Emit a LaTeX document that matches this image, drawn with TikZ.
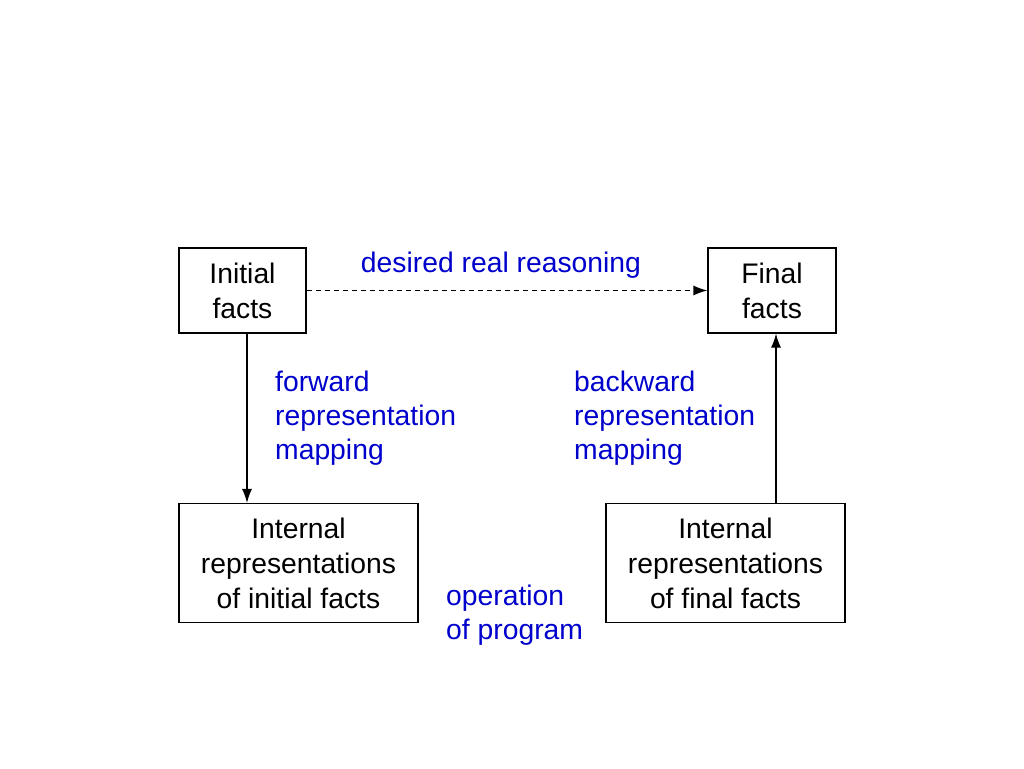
\documentclass[tikz,border=0pt]{standalone}
\usepackage{fontspec}
\setmainfont{Liberation Sans}
\usetikzlibrary{arrows.meta}
\definecolor{lblue}{RGB}{0,0,204}
\begin{document}
\begin{tikzpicture}[x=1pt,y=-1pt,
 box/.style={draw, line width=1.2pt, align=center, inner sep=0pt, font=\fontsize{28.3}{35}\selectfont},
 lbl/.style={text=lblue, align=left, inner sep=0pt, anchor=west, font=\fontsize{28.3}{34}\selectfont},
 arr/.style={line width=1.2pt, -{Latex[length=14pt,width=10pt]}}]
\useasboundingbox (0,0) rectangle (1024,768);
\node[box, minimum width=127pt, minimum height=85pt] (if) at (242.5,290.5) {Initial\\facts};
\node[box, minimum width=128pt, minimum height=85pt] (ff) at (772,290.5) {Final\\facts};
\node[box, minimum width=239pt, minimum height=119pt] (ii) at (298.5,563) {Internal\\representations\\of initial facts};
\node[box, minimum width=239pt, minimum height=119pt] (if2) at (725.5,563) {Internal\\representations\\of final facts};
\draw[arr, dash pattern=on 5pt off 4pt] (if.east) -- (ff.west);
\draw[arr] ([xshift=4.5pt]if.south) -- ([xshift=4.5pt]if.south |- ii.north);
\draw[arr] ([xshift=4pt]ff.south |- if2.north) -- ([xshift=4pt]ff.south);
\node[lbl, anchor=center] (drr) at (501,265) {desired real reasoning};
\node[lbl] (fwd) at (275,418) {forward\\representation\\mapping};
\node[lbl] (bwd) at (574,418) {backward\\representation\\mapping};
\node[lbl] (op) at (446,615) {operation\\of program};
\end{tikzpicture}
\end{document}
